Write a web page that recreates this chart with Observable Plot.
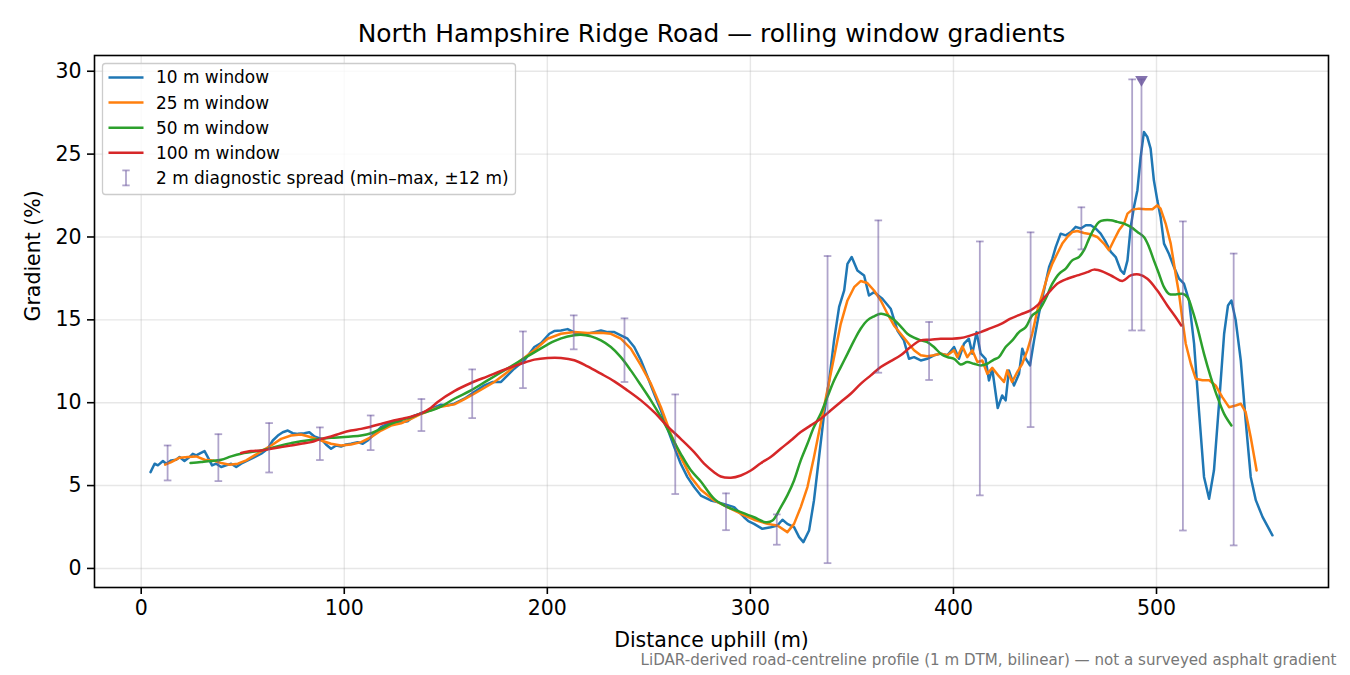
<!DOCTYPE html>
<html><head><meta charset="utf-8">
<script src="https://cdn.jsdelivr.net/npm/d3@7"></script>
<script src="https://cdn.jsdelivr.net/npm/@observablehq/plot@0.6"></script>
<style>body{margin:0;background:#fff}#chart{width:1350px;height:675px}</style>
</head><body><div id="chart"></div><script>
const titleText = "North Hampshire Ridge Road — rolling window gradients";
const xLabel = "Distance uphill (m)";
const yLabel = "Gradient (%)";
const captionText = "LiDAR-derived road-centreline profile (1 m DTM, bilinear) — not a surveyed asphalt gradient";
const xTicks = [0, 100, 200, 300, 400, 500];
const yTicks = [0, 5, 10, 15, 20, 25, 30];
const seriesNames = ["10 m window", "25 m window", "50 m window", "100 m window"];
const seriesColors = ["#1f77b4", "#ff7f0e", "#2ca02c", "#d62728"];
const spreadLabel = "2 m diagnostic spread (min–max, ±12 m)";
const spreadColor = "#6e5aa0";

const w10 = [[4.6,5.81],[6.6,6.32],[8.2,6.22],[10.7,6.48],[12.3,6.32],[14.8,6.52],[17.2,6.56],[18.9,6.72],[21.3,6.48],[23.8,6.72],[25.4,6.92],[27.1,6.82],[29.2,6.96],[31.2,7.08],[32.8,6.72],[34.9,6.22],[36.9,6.32],[39.4,6.12],[41.8,6.22],[44.3,6.32],[46.8,6.12],[49.2,6.32],[52.5,6.52],[55.8,6.72],[59.1,6.92],[62.3,7.22],[64.8,7.72],[67.3,8.02],[69.7,8.22],[72.2,8.32],[74.6,8.16],[77.1,8.12],[80.4,8.16],[82.8,8.22],[85.3,7.96],[88.6,7.82],[91.0,7.48],[93.5,7.22],[96.0,7.42],[98.4,7.36],[100.9,7.48],[103.3,7.52],[106.6,7.62],[109.1,7.52],[111.5,7.72],[114.8,8.12],[118.1,8.52],[121.4,8.72],[124.7,8.82],[128.0,8.82],[131.2,8.88],[134.5,9.22],[137.8,9.36],[141.1,9.52],[144.4,9.72],[147.6,9.88],[151,9.85],[154.2,9.94],[159.1,10.24],[164.0,10.64],[169.0,11.05],[173.1,11.25],[177.2,11.25],[180.4,11.65],[183.7,12.05],[188.7,12.56],[193.6,13.36],[196.9,13.6],[201.0,14.16],[203.4,14.32],[206.7,14.36],[210.0,14.44],[213.3,14.24],[216.5,14.12],[219.8,14.16],[223.1,14.26],[226.4,14.36],[229.7,14.26],[233.0,14.26],[236.2,14.06],[239.5,13.86],[242.8,13.36],[246.1,12.56],[249.4,11.55],[252.6,10.54],[255.9,9.54],[259.2,8.43],[262.5,7.32],[265.7,6.32],[269.0,5.51],[272.3,4.91],[275.6,4.4],[280.5,4.1],[283.8,4.0],[288,3.85],[292.0,3.7],[296.9,3.09],[299,2.85],[301.8,2.69],[305.9,2.39],[310.0,2.49],[313.3,2.59],[315.8,2.94],[318.2,2.69],[321.5,2.49],[324.0,1.89],[326.1,1.59],[328.9,2.29],[331.3,4.09],[333.8,6.71],[336.3,9.33],[338.8,11.34],[341.2,13.76],[343.7,15.78],[346.2,16.78],[347.8,18.38],[349.9,18.79],[352.7,17.98],[356.0,17.68],[358.4,16.47],[360.9,16.67],[365.0,16.27],[369.1,15.67],[372.4,14.36],[375.6,13.76],[378.1,12.65],[380.6,12.75],[383.9,12.55],[387.1,12.65],[390.4,12.86],[393.7,12.96],[397.0,12.86],[400.3,13.36],[402.7,12.65],[405.2,13.56],[407.6,13.86],[409.3,12.96],[411.4,14.26],[413.4,12.96],[415.8,12.65],[417.5,11.34],[419.1,12.05],[421.8,9.68],[424.0,10.44],[425.7,10.14],[427.3,11.95],[429.8,11.04],[432.3,11.75],[433.9,13.26],[435.6,12.65],[437.7,12.25],[439.7,13.76],[442.1,15.37],[444.6,16.78],[447.1,18.19],[448.7,18.69],[450.4,19.4],[452.8,20.2],[455.3,20.1],[457.8,20.3],[460.2,20.61],[462.7,20.51],[465.2,20.71],[467.6,20.71],[470.1,20.51],[472.5,20.2],[475.0,19.7],[477.5,19.1],[479.9,18.79],[482.4,17.98],[484.0,17.78],[485.7,18.59],[487.3,20.61],[488.9,21.81],[490.6,22.82],[492.2,24.83],[493.8,26.33],[495.5,26.03],[497.1,25.33],[498.7,23.42],[500.4,22.21],[502.0,21.21],[503.7,19.6],[506.1,18.99],[508.6,18.19],[511.1,17.48],[513.5,17.18],[516.0,16.17],[518.5,13.56],[520.9,9.54],[523.4,5.52],[525.9,4.21],[528.3,5.92],[530.8,9.94],[533.3,14.16],[535.2,15.87],[536.9,16.17],[539.0,14.97],[541.5,12.55],[543.9,8.94],[546.4,5.52],[548.9,4.12],[552.2,3.11],[557.1,2.0]];

const w25 = [[11.8,6.26],[14.8,6.42],[18.9,6.68],[23.0,6.72],[27.1,6.76],[31.2,6.56],[35.3,6.52],[39.4,6.36],[43.5,6.26],[47.6,6.32],[51.7,6.52],[55.8,6.82],[59.9,7.12],[64.0,7.42],[68.9,7.82],[73.8,8.02],[78.7,8.08],[83.7,7.92],[88.6,7.72],[93.5,7.52],[98.4,7.42],[103.3,7.48],[108.3,7.62],[113.2,7.92],[118.1,8.32],[123.0,8.62],[128.0,8.76],[132.9,9.02],[137.8,9.32],[142.7,9.56],[147.6,9.76],[154.2,9.9],[159,10.2],[164.0,10.54],[173.9,11.25],[180.4,11.85],[187.0,12.56],[193.6,13.16],[200.1,13.86],[206.7,14.16],[213.3,14.26],[219.8,14.2],[226.4,14.22],[231.3,14.16],[236.2,13.86],[241.1,13.26],[246.1,12.25],[251.0,11.15],[255.9,9.74],[260.8,8.13],[265.7,6.72],[270.7,5.51],[275.6,4.75],[282.2,4.1],[288.7,3.7],[295.3,3.3],[301.8,2.94],[308.4,2.69],[313.3,2.59],[318.2,2.19],[321.5,2.69],[324.8,3.7],[328.1,4.91],[331.3,6.71],[334.6,8.73],[337.9,10.74],[341.2,12.75],[344.5,14.76],[347.8,16.17],[351.1,16.97],[354.3,17.34],[357.6,17.22],[360.9,16.77],[364.2,16.17],[367.5,15.37],[370.7,14.66],[374.0,14.16],[377.3,13.66],[380.6,13.16],[383.9,12.86],[387.1,12.8],[390.4,12.86],[393.7,12.96],[397.0,12.86],[400.3,13.16],[401.9,12.75],[404.4,13.4],[406.8,12.75],[409.3,13.16],[411.8,12.45],[414.2,12.55],[416.7,11.75],[419.1,12.1],[422.4,11.6],[424.9,11.25],[426.5,11.95],[428.9,11.25],[431.4,11.85],[433.9,12.35],[436.4,13.16],[438.8,14.16],[441.3,15.57],[443.8,16.57],[446.2,17.58],[448.7,18.39],[451.1,18.99],[453.6,19.6],[456.1,20.0],[458.5,20.3],[461.0,20.36],[464.3,20.24],[467.6,20.16],[470.8,20.0],[474.1,19.6],[476.6,19.2],[479.0,19.8],[481.5,20.4],[484.0,20.81],[485.7,21.41],[488.1,21.65],[491.4,21.71],[494.7,21.67],[498.0,21.67],[500.4,21.91],[502.0,21.71],[504.5,20.81],[507.0,19.6],[509.4,17.78],[511.1,16.57],[512.8,14.97],[514.4,13.56],[516.9,12.35],[519.3,11.45],[522.6,11.35],[525.9,11.35],[529.1,11.04],[532.4,10.34],[535.7,9.73],[539.0,9.83],[541.5,9.94],[543.9,9.43],[546.4,7.92],[549.3,5.91]];

const w50 = [[24.3,6.36],[29.5,6.42],[34.4,6.48],[39.4,6.56],[44.3,6.76],[49.2,6.92],[54.1,7.02],[59.1,7.12],[64.0,7.26],[68.9,7.42],[73.8,7.56],[78.7,7.68],[83.7,7.76],[88.6,7.82],[93.5,7.88],[98.4,7.92],[103.3,7.96],[108.3,8.02],[113.2,8.16],[118.1,8.42],[123.0,8.72],[128.0,8.96],[132.9,9.12],[137.8,9.36],[142.7,9.52],[147.6,9.76],[154.2,10.24],[162.4,10.74],[170.6,11.35],[178.8,11.95],[187.0,12.56],[195.2,13.16],[203.4,13.72],[210.0,14.0],[216.5,14.1],[221.5,14.0],[226.4,13.76],[231.3,13.36],[236.2,12.75],[241.1,11.95],[246.1,11.05],[251.0,10.14],[255.9,9.14],[260.8,8.03],[265.7,6.92],[270.7,5.92],[275.6,5.25],[282.2,4.2],[288.7,3.7],[295.3,3.4],[301.8,3.09],[307.6,2.79],[310.9,2.89],[315.0,3.7],[318.2,4.41],[321.5,5.31],[324.8,6.52],[328.1,7.52],[331.3,8.53],[334.6,9.33],[337.9,10.34],[341.2,11.34],[344.5,12.15],[347.8,12.95],[351.1,13.76],[354.3,14.46],[357.6,14.97],[360.9,15.21],[364.2,15.37],[367.5,15.27],[370.7,15.01],[374.0,14.61],[377.3,14.16],[380.6,13.92],[383.9,13.76],[387.1,13.66],[390.4,13.36],[393.7,12.96],[397.0,12.75],[400.3,12.65],[403.5,12.31],[406.8,12.45],[410.1,12.35],[413.4,12.25],[416.7,12.35],[419.9,12.6],[422.4,12.75],[425.7,13.36],[429.0,13.76],[432.3,14.26],[435.6,14.56],[438.8,15.27],[442.1,15.57],[445.4,16.27],[448.7,17.18],[452.0,17.78],[455.3,18.09],[458.5,18.59],[461.8,18.79],[464.3,19.2],[466.8,19.9],[469.3,20.51],[471.7,20.91],[474.2,21.01],[477.5,21.01],[480.7,20.91],[484.0,20.81],[487.3,20.61],[490.6,20.3],[493.8,20.0],[496.3,19.4],[498.7,18.59],[501.2,17.78],[503.7,16.97],[506.1,16.57],[509.4,16.53],[512.8,16.57],[515.2,16.37],[517.7,15.57],[520.1,14.56],[523.4,12.95],[526.7,11.55],[530.0,10.34],[533.3,9.33],[536.9,8.63]];

const w100 = [[49.2,6.96],[54.1,7.08],[59.1,7.12],[64.0,7.22],[68.9,7.32],[73.8,7.42],[78.7,7.52],[83.7,7.62],[88.6,7.82],[93.5,7.96],[98.4,8.16],[103.3,8.32],[108.3,8.42],[113.2,8.56],[118.1,8.72],[123.0,8.88],[128.0,9.02],[132.9,9.16],[137.8,9.36],[142.7,9.7],[146.0,10.05],[154.2,10.7],[162.4,11.19],[170.6,11.59],[178.8,11.99],[187.0,12.35],[193.6,12.6],[200.1,12.7],[206.7,12.7],[213.3,12.56],[219.8,12.19],[226.4,11.75],[233.0,11.29],[239.5,10.74],[246.1,10.14],[252.6,9.43],[259.2,8.57],[265.7,7.82],[272.3,7.02],[277.2,6.32],[282.1,5.81],[285.4,5.55],[290.4,5.47],[295.3,5.61],[300.2,5.91],[305.1,6.35],[310.0,6.72],[314.9,7.22],[319.9,7.72],[324.8,8.23],[329.7,8.63],[334.6,9.03],[339.5,9.53],[344.5,10.04],[349.4,10.54],[354.3,11.14],[359.3,11.65],[364.2,12.15],[369.1,12.51],[374.0,12.86],[378.9,13.36],[383.9,13.76],[388.8,13.8],[393.7,13.86],[398.6,13.86],[403.5,13.9],[408.5,14.06],[413.4,14.26],[418.3,14.5],[423.2,14.74],[428.1,15.07],[433.1,15.33],[438.0,15.57],[441.3,15.87],[444.6,16.33],[447.9,16.77],[451.1,17.18],[456.1,17.48],[461.0,17.68],[465.9,17.88],[469.2,18.03],[474.1,17.88],[479.0,17.58],[483.2,17.34],[487.3,17.68],[491.4,17.74],[495.5,17.48],[500.4,16.77],[505.3,15.87],[509.4,15.17],[512.2,14.66]];

const spreadX  = [13, 38, 63, 88, 113, 138, 163, 188, 213, 238, 263, 288, 313, 338, 363, 388, 413, 438, 463, 488, 492.6, 513, 538];
const spreadLo = [5.31, 5.27, 5.79, 6.54, 7.14, 8.29, 9.07, 10.88, 13.22, 11.25, 4.49, 2.31, 1.43, 0.32, 11.81, 11.37, 4.41, 8.53, 19.25, 14.36, 14.36, 2.29, 1.39];
const spreadHi = [7.42, 8.10, 8.77, 8.51, 9.23, 10.22, 12.01, 14.30, 15.27, 15.09, 10.50, 4.53, 3.26, 18.85, 21.00, 14.87, 19.73, 20.28, 21.79, 29.51, 29.51, 20.94, 19.00];
const peakX = [492.6];
const peakY = [29.5];

const seriesData = [w10, w25, w50, w100];
const curves = ["linear", "linear", "catmull-rom", "catmull-rom"];
const spread = spreadX.map((x, i) => ({x, lo: spreadLo[i], hi: spreadHi[i]}));
const peaks = peakX.map((x, i) => ({x, y: peakY[i]}));

const capSymbol = {draw(ctx, size) { const r = Math.sqrt(size / Math.PI); ctx.moveTo(-r, 0); ctx.lineTo(r, 0); }};
const FONT = "DejaVu Sans";

const chart = Plot.plot({
  width: 1350, height: 675,
  marginLeft: 94, marginRight: 22, marginTop: 55, marginBottom: 88,
  style: {fontFamily: FONT, fontSize: "20.5px", background: "white", color: "black"},
  x: {domain: [-23, 584.7]},
  y: {domain: [-1.15, 30.95]},
  marks: [
    Plot.gridX(xTicks, {stroke: "#b0b0b0", strokeOpacity: 0.3, strokeWidth: 1.4}),
    Plot.gridY(yTicks, {stroke: "#b0b0b0", strokeOpacity: 0.3, strokeWidth: 1.4}),
    ...seriesData.map((d, i) => Plot.line(d, {x: d => d[0], y: d => d[1], stroke: seriesColors[i], strokeWidth: 2.5, curve: curves[i]})),
    Plot.ruleX(spread, {x: "x", y1: "lo", y2: "hi", stroke: spreadColor, strokeOpacity: 0.55, strokeWidth: 1.8}),
    Plot.dot(spread, {x: "x", y: "lo", symbol: capSymbol, r: 3.8, stroke: spreadColor, strokeOpacity: 0.55, strokeWidth: 1.8}),
    Plot.dot(spread, {x: "x", y: "hi", symbol: capSymbol, r: 3.8, stroke: spreadColor, strokeOpacity: 0.55, strokeWidth: 1.8}),
    Plot.dot(peaks, {x: "x", y: "y", symbol: "triangle", rotate: 180, r: 4.7, fill: spreadColor, fillOpacity: 0.85, stroke: "none"}),
    Plot.frame({stroke: "black", strokeWidth: 1.6}),
    Plot.axisX(xTicks, {tickSize: 7, tickPadding: 6, strokeWidth: 1.6, label: null, fontSize: 20.5}),
    Plot.axisY(yTicks, {tickSize: 7, tickPadding: 6, strokeWidth: 1.6, label: null, fontSize: 20.5}),
    Plot.text([titleText], {text: d => d, frameAnchor: "top", dy: -21, lineAnchor: "middle", fontSize: 24.9, fill: "black"}),
    Plot.text([xLabel], {text: d => d, frameAnchor: "bottom", dy: 53, lineAnchor: "middle", fontSize: 20.5, fill: "black"}),
    Plot.text([yLabel], {text: d => d, frameAnchor: "left", dx: -61, rotate: -90, lineAnchor: "middle", fontSize: 20.5, fill: "black"}),
    Plot.text([captionText], {text: d => d, frameAnchor: "bottom-right", dx: 8, dy: 73, textAnchor: "end", lineAnchor: "middle", fontSize: 15.1, fill: "#777"})
  ]
});
document.getElementById("chart").appendChild(chart);

// legend
const svg = d3.select(chart);
const lg = svg.append("g").attr("font-family", FONT).attr("font-size", 16.95).attr("text-anchor", "start");
lg.append("rect").attr("x", 102.5).attr("y", 63.5).attr("width", 413).attr("height", 131).attr("rx", 3)
  .attr("fill", "white").attr("fill-opacity", 0.8).attr("stroke", "#cccccc").attr("stroke-width", 1.3);
const rowY = i => 77.5 + i * 25.1;
seriesNames.forEach((name, i) => {
  lg.append("line").attr("x1", 108.5).attr("x2", 143.5).attr("y1", rowY(i)).attr("y2", rowY(i))
    .attr("stroke", seriesColors[i]).attr("stroke-width", 2.5);
  lg.append("text").attr("x", 156).attr("y", rowY(i)).attr("dy", "0.35em").attr("fill", "black").text(name);
});
const ey = rowY(4);
const eg = lg.append("g").attr("stroke", spreadColor).attr("stroke-opacity", 0.55).attr("stroke-width", 1.8);
eg.append("line").attr("x1", 126).attr("x2", 126).attr("y1", ey - 7.5).attr("y2", ey + 7.5);
eg.append("line").attr("x1", 122.3).attr("x2", 129.7).attr("y1", ey - 7.5).attr("y2", ey - 7.5);
eg.append("line").attr("x1", 122.3).attr("x2", 129.7).attr("y1", ey + 7.5).attr("y2", ey + 7.5);
lg.append("text").attr("x", 156).attr("y", ey).attr("dy", "0.35em").attr("fill", "black").text(spreadLabel);
</script></body></html>
